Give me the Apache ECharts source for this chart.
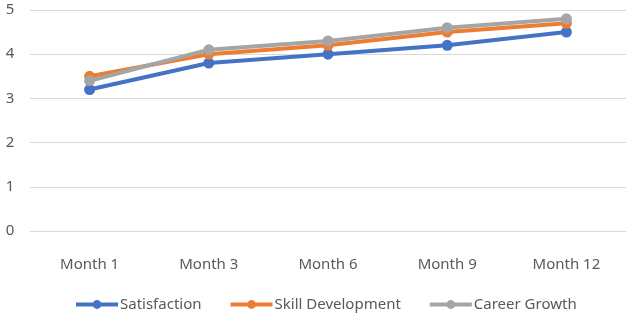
<!DOCTYPE html>
<html><head><meta charset="utf-8">
<script src="https://cdn.jsdelivr.net/npm/echarts@6/dist/echarts.min.js"></script>
<style>html,body{margin:0;padding:0;background:#fff}#c{width:627px;height:316px}</style>
</head><body><div id="c"></div>
<script>
var categories = ['Month 1','Month 3','Month 6','Month 9','Month 12'];
var satisfaction = [3.2, 3.8, 4.0, 4.2, 4.5];
var skillDevelopment = [3.5, 4.0, 4.2, 4.5, 4.7];
var careerGrowth = [3.4, 4.1, 4.3, 4.6, 4.8];
var seriesNames = ['Satisfaction','Skill Development','Career Growth'];
var colors = ['#4472C4','#ED7D31','#A5A5A5'];
var font = 'Noto Sans, Open Sans, sans-serif';
var chart = echarts.init(document.getElementById('c'));
function mk(name, data, color){
  return {name:name,type:'line',data:data,symbol:'circle',symbolSize:11,
    lineStyle:{width:4,color:color},itemStyle:{color:color},emphasis:{disabled:true}};
}
chart.setOption({
  animation:false,
  color:colors,
  grid:{left:30,right:1,top:10,bottom:85},
  xAxis:{type:'category',data:categories,boundaryGap:true,
    axisLine:{show:true,lineStyle:{color:'#d9d9d9',width:1}},axisTick:{show:false},
    axisLabel:{color:'#595959',fontSize:15,fontFamily:font,margin:26}},
  yAxis:{type:'value',min:0,max:5,interval:1,
    axisLine:{show:false},axisTick:{show:false},
    splitLine:{lineStyle:{color:'#d9d9d9',width:1}},
    axisLabel:{color:'#595959',fontSize:15,fontFamily:font,margin:20,align:'center'}},
  legend:{top:292,left:69,itemWidth:42,itemHeight:11,itemGap:27,
    lineStyle:{width:4},
    textStyle:{color:'#595959',fontSize:15,fontFamily:font,padding:[0,0,0,-3]},data:seriesNames},
  series:[mk(seriesNames[0],satisfaction,colors[0]),mk(seriesNames[1],skillDevelopment,colors[1]),mk(seriesNames[2],careerGrowth,colors[2])]
});
</script></body></html>
